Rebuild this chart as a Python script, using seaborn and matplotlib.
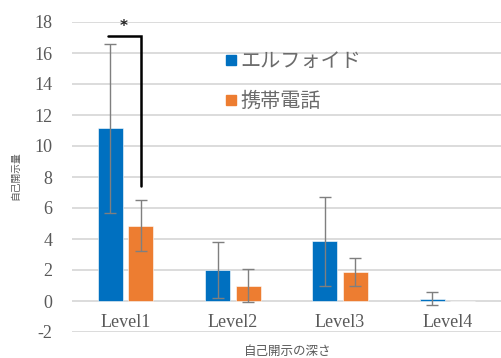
import matplotlib
matplotlib.use("Agg")
import matplotlib.pyplot as plt
import seaborn as sns
import pandas as pd
import numpy as np
from matplotlib.lines import Line2D

# Mean self-disclosure amount per depth level, with standard deviations
levels = ["Level1", "Level2", "Level3", "Level4"]
groups = ["エルフォイド", "携帯電話"]
elfoid_mean = [11.15, 2.0, 3.85, 0.15]
elfoid_sd = [5.45, 1.8, 2.85, 0.42]
phone_mean = [4.85, 1.0, 1.85, 0.0]
phone_sd = [1.65, 1.05, 0.9, 0.0]
y_ticks = [-2, 0, 2, 4, 6, 8, 10, 12, 14, 16, 18]

colors = ["#0070C0", "#ED7D31"]
grey_text = "#595959"

df = pd.DataFrame({
    "level": levels * 2,
    "group": [groups[0]] * len(levels) + [groups[1]] * len(levels),
    "value": elfoid_mean + phone_mean,
    "sd": elfoid_sd + phone_sd,
})

sns.set_theme(style="white")
plt.rcParams["font.family"] = ["Noto Sans CJK JP", "DejaVu Sans"]

fig = plt.figure(figsize=(5.01, 3.58), dpi=100)
ax = fig.add_axes([72 / 501, 1 - 332 / 358, (501 - 72) / 501, 310 / 358])

sns.barplot(data=df, x="level", y="value", hue="group", order=levels,
            hue_order=groups, palette=colors, saturation=1, width=0.57,
            gap=0.18, errorbar=None, ax=ax, legend=False, zorder=3,
            edgecolor="white", linewidth=0.4)

# Error bars centred on each drawn bar
for i, g in enumerate(groups):
    sub = df[df["group"] == g].set_index("level").loc[levels]
    cont = ax.containers[i]
    xs = [p.get_x() + p.get_width() / 2 for p in cont.patches]
    for x, v, s in zip(xs, sub["value"], sub["sd"]):
        if s > 0:
            ax.errorbar(x, v, yerr=s, fmt="none", ecolor="#7f7f7f",
                        elinewidth=1.0, capsize=4, capthick=1.0, zorder=4)

# Significance bracket between the two Level1 bars
c0 = ax.containers[0].patches[0]
c1 = ax.containers[1].patches[0]
x_left = c0.get_x() + c0.get_width() / 2 - 0.025
x_right = c1.get_x() + c1.get_width() / 2 + 0.005
ax.plot([x_left, x_right, x_right], [17.1, 17.1, 7.4], color="black",
        lw=1.8, zorder=5, solid_joinstyle="miter")
ax.text((x_left + x_right) / 2 - 0.01, 17.2, "*", ha="center", va="bottom",
        fontsize=11, fontweight="bold", color="#222222", family="DejaVu Sans")

ax.set_ylim(-2, 18)
ax.set_xlim(-0.5, 3.5)
ax.set_yticks(y_ticks)
ax.set_yticklabels([str(t) for t in y_ticks], family="Liberation Serif",
                   fontsize=13, color=grey_text)
ax.set_xticks(range(len(levels)))
ax.set_xticklabels(levels, family="Liberation Serif", fontsize=13,
                   color=grey_text)
ax.tick_params(axis="x", length=0, pad=-13)
ax.tick_params(axis="y", length=0, pad=14)
ax.grid(axis="y", color="#d9d9d9", lw=1.3, zorder=0)
ax.set_axisbelow(True)
for s in ax.spines.values():
    s.set_visible(False)

ax.set_xlabel("")
ax.set_ylabel("")
fig.text(288 / 501, 1 - 351 / 358, "自己開示の深さ", ha="center", va="center",
         fontsize=9, color=grey_text)
fig.text(15 / 501, 1 - 176 / 358, "自己開示量", ha="center", va="center",
         rotation=90, fontsize=7, color=grey_text)

handles = [Line2D([], [], marker="s", ls="none", markersize=7,
                  markerfacecolor=c, markeredgecolor=c) for c in colors]
ax.legend(handles, groups, loc="upper left", bbox_to_anchor=(0.31, 0.965),
          frameon=False, handletextpad=0.05, handlelength=0.8,
          labelspacing=0.95, prop={"size": 14.5}, labelcolor="#6b6b6b")

fig.savefig("out.png", dpi=100)
